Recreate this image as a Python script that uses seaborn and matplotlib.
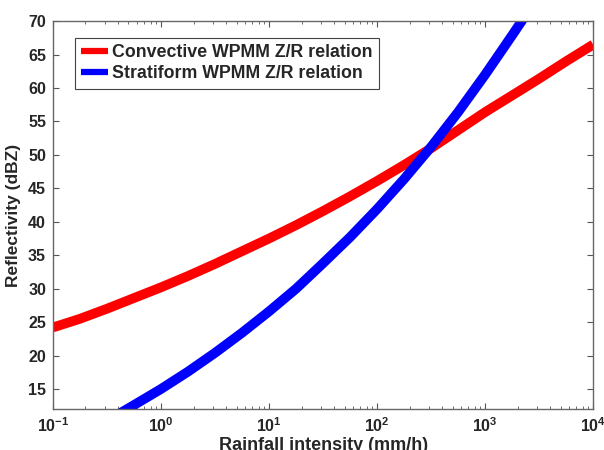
import numpy as np
import pandas as pd
import matplotlib
matplotlib.use("Agg")
import matplotlib.pyplot as plt
from matplotlib.ticker import FixedLocator, FuncFormatter, LogLocator, NullFormatter
import seaborn as sns

# ---- data ----
conv_label = "Convective WPMM Z/R relation"
strat_label = "Stratiform WPMM Z/R relation"
conv_rain = [0.1, 0.178, 0.316, 0.562, 1, 1.78, 3.16, 5.62, 10, 17.8, 31.6, 56.2,
             100, 178, 316, 562, 1000, 1780, 3160, 5620, 10000]
conv_dbz = [24.2, 25.5, 27.0, 28.6, 30.2, 31.9, 33.7, 35.6, 37.5, 39.5, 41.6, 43.8,
            46.1, 48.5, 51.0, 53.7, 56.4, 58.9, 61.4, 64.0, 66.5]
strat_rain = [0.4, 0.562, 1, 1.78, 3.16, 5.62, 10, 17.8, 31.6, 56.2, 100, 178, 316,
              562, 1000, 1780, 2240]
strat_dbz = [11.2, 12.6, 15.0, 17.6, 20.4, 23.4, 26.6, 30.0, 33.8, 37.7, 41.9, 46.4,
             51.2, 56.4, 62.0, 67.9, 70.3]
x_ticks = [0.1, 1, 10, 100, 1000, 10000]
x_tick_labels = [r"$\mathbf{10^{-1}}$", r"$\mathbf{10^{0}}$", r"$\mathbf{10^{1}}$",
                 r"$\mathbf{10^{2}}$", r"$\mathbf{10^{3}}$", r"$\mathbf{10^{4}}$"]
y_ticks = [15, 20, 25, 30, 35, 40, 45, 50, 55, 60, 65, 70]

df = pd.concat([
    pd.DataFrame({"rain": conv_rain, "dbz": conv_dbz, "series": conv_label}),
    pd.DataFrame({"rain": strat_rain, "dbz": strat_dbz, "series": strat_label}),
], ignore_index=True)

sns.set_style("ticks")
plt.rcParams["font.family"] = ["Liberation Sans", "DejaVu Sans"]
plt.rcParams["font.weight"] = "bold"
plt.rcParams["mathtext.fontset"] = "custom"
plt.rcParams["mathtext.bf"] = "Liberation Sans:bold"
plt.rcParams["mathtext.rm"] = "Liberation Sans:bold"

fig = plt.figure(figsize=(6.04, 4.5), dpi=100)
ax = fig.add_axes([0.0877, 0.091, 0.8944, 0.862])

sns.lineplot(data=df, x="rain", y="dbz", hue="series",
             palette={conv_label: "#ff0000", strat_label: "#0000ff"},
             linewidth=7, ax=ax, sort=False, estimator=None)
for ln in ax.get_lines():
    ln.set_solid_joinstyle("round")
    ln.set_solid_capstyle("butt")

ax.set_xscale("log")
ax.set_xlim(0.1, 10000)
ax.set_ylim(12, 70)
ax.xaxis.set_major_locator(FixedLocator(x_ticks))
ax.xaxis.set_major_formatter(FuncFormatter(lambda v, p: x_tick_labels[x_ticks.index(v)] if v in x_ticks else ""))
ax.xaxis.set_minor_locator(LogLocator(base=10, subs=np.arange(2, 10), numticks=20))
ax.xaxis.set_minor_formatter(NullFormatter())
ax.yaxis.set_major_locator(FixedLocator(y_ticks))

ax.tick_params(axis="both", which="major", direction="in", length=4, width=0.8,
               color="#555555", top=True, right=True, labelsize=11.5, pad=5)
ax.tick_params(axis="both", which="minor", direction="in", length=2, width=0.6,
               color="#555555", top=True, right=True)
for lab in ax.get_yticklabels():
    lab.set_fontweight("bold")
for s in ax.spines.values():
    s.set_visible(True)
    s.set_color("#666666")
    s.set_linewidth(1.0)

ax.set_xlabel("Rainfall intensity (mm/h)", fontsize=13, fontweight="bold", labelpad=2)
ax.set_ylabel("Reflectivity (dBZ)", fontsize=12.5, fontweight="bold", labelpad=5)

leg = ax.legend(loc="upper left", bbox_to_anchor=(0.041, 0.956), borderaxespad=0,
                frameon=True, fancybox=False, edgecolor="#444444", framealpha=1,
                prop={"size": 12.8, "weight": "bold"}, handlelength=1.5,
                handletextpad=0.25, labelspacing=0.22, borderpad=0.35, title=None)
for h in leg.get_lines():
    h.set_linewidth(4.5)
leg.get_frame().set_linewidth(0.8)

fig.savefig("out.png", dpi=100)
